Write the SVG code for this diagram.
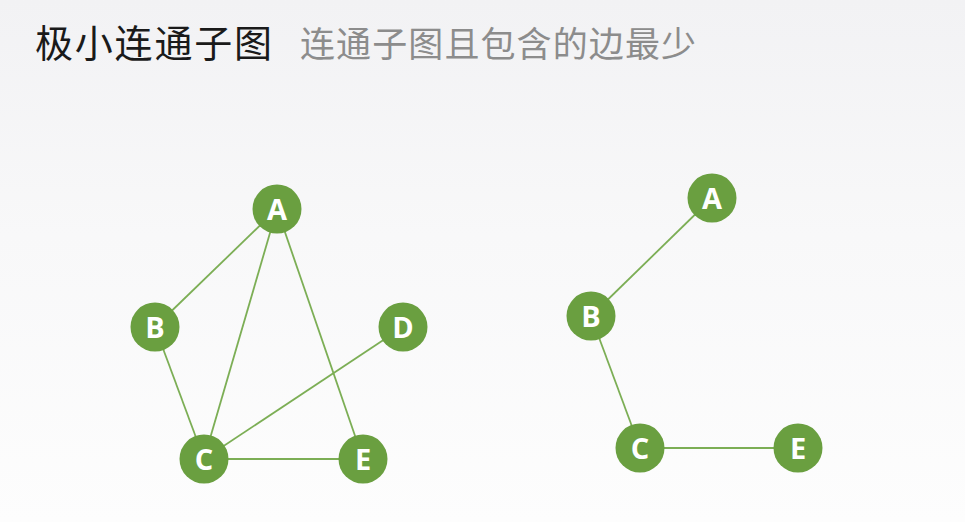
<svg xmlns="http://www.w3.org/2000/svg" width="965" height="522" viewBox="0 0 965 522">
<defs>
<linearGradient id="bg" x1="0" y1="0" x2="0" y2="1">
<stop offset="0" stop-color="#f2f2f4"/>
<stop offset="0.45" stop-color="#f8f8f9"/>
<stop offset="1" stop-color="#fdfdfd"/>
</linearGradient>
<style>
.node circle{fill:#6a9f40;}
.node text{fill:#ffffff;font-family:"Open Sans","DejaVu Sans",sans-serif;font-weight:bold;font-size:29px;text-anchor:middle;dominant-baseline:central;}
.edges line{stroke:#7cae55;stroke-width:1.8;}
.title{font-family:"Noto Sans CJK SC",sans-serif;font-size:38px;fill:#1a1a1a;}
.sub{font-family:"Noto Sans CJK SC",sans-serif;font-size:35px;fill:#8c8c8c;}
</style>
</defs>
<rect width="965" height="522" fill="url(#bg)"/>
<text class="title" x="35" y="57" textLength="237" lengthAdjust="spacing">极小连通子图</text>
<text class="sub" x="300" y="57" textLength="396" lengthAdjust="spacing">连通子图且包含的边最少</text>
<g class="edges" id="connectors">
<line x1="277" y1="209" x2="155" y2="327"/>
<line x1="277" y1="209" x2="204" y2="459"/>
<line x1="277" y1="209" x2="363" y2="459"/>
<line x1="155" y1="327" x2="204" y2="459"/>
<line x1="403" y1="327" x2="204" y2="459"/>
<line x1="204" y1="459" x2="363" y2="459"/>
<line x1="712" y1="198" x2="591" y2="316"/>
<line x1="591" y1="316" x2="640" y2="448"/>
<line x1="640" y1="448" x2="798" y2="448"/>
</g>
<g id="L-A" class="node"><circle cx="277" cy="209" r="24.5"/><text x="277" y="208">A</text></g>
<g id="L-B" class="node"><circle cx="155" cy="327" r="24.5"/><text x="155" y="326">B</text></g>
<g id="L-D" class="node"><circle cx="403" cy="327" r="24.5"/><text x="403" y="326">D</text></g>
<g id="L-C" class="node"><circle cx="204" cy="459" r="24.5"/><text x="204" y="458">C</text></g>
<g id="L-E" class="node"><circle cx="363" cy="459" r="24.5"/><text x="363" y="458">E</text></g>
<g id="R-A" class="node"><circle cx="712" cy="198" r="24.5"/><text x="712" y="197">A</text></g>
<g id="R-B" class="node"><circle cx="591" cy="316" r="24.5"/><text x="591" y="315">B</text></g>
<g id="R-C" class="node"><circle cx="640" cy="448" r="24.5"/><text x="640" y="447">C</text></g>
<g id="R-E" class="node"><circle cx="798" cy="448" r="24.5"/><text x="798" y="447">E</text></g>
</svg>
